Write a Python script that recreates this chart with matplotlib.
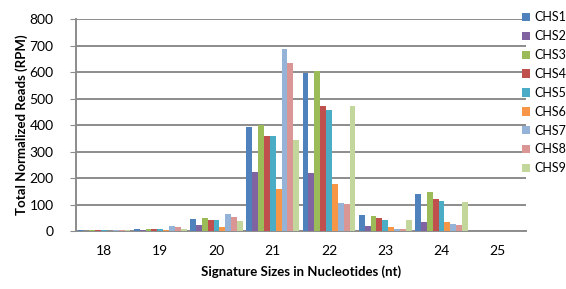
import matplotlib.pyplot as plt
import numpy as np

plt.rcParams["font.family"] = ["Lato", "DejaVu Sans"]

sizes = ["18", "19", "20", "21", "22", "23", "24", "25"]
series_names = ["CHS1", "CHS2", "CHS3", "CHS4", "CHS5", "CHS6", "CHS7", "CHS8", "CHS9"]

chs1 = [5, 10, 46, 393, 596, 60, 139, 2]
chs2 = [2, 5, 25, 223, 219, 19, 36, 1]
chs3 = [4, 10, 50, 399, 606, 59, 148, 2]
chs4 = [4, 9, 43, 359, 471, 48, 120, 2]
chs5 = [4, 9, 43, 358, 458, 44, 114, 2]
chs6 = [2, 3, 15, 161, 179, 16, 35, 1]
chs7 = [5, 18, 63, 688, 108, 10, 29, 1]
chs8 = [4, 14, 55, 634, 103, 9, 25, 1]
chs9 = [4, 8, 39, 343, 471, 41, 110, 1]
values = [chs1, chs2, chs3, chs4, chs5, chs6, chs7, chs8, chs9]

colors = ["#4F81BD", "#8064A2", "#9BBB59", "#C0504D", "#4BACC6",
          "#F79646", "#95B3D7", "#D99694", "#C3D69B"]

fig = plt.figure(figsize=(5.66, 2.89), dpi=100)
ax = fig.add_axes([0.134, 0.2, 0.795, 0.734])

x = np.arange(len(sizes))
n = len(values)
width = 0.94 / n
for i, (name, vals) in enumerate(zip(series_names, values)):
    ax.bar(x - 0.47 + width * (i + 0.5), vals, width, color=colors[i],
           label=name, zorder=3)

ax.set_xlim(-0.5, len(sizes) - 0.5)
ax.set_ylim(0, 800)
ax.set_yticks(range(0, 801, 100))
ax.set_xticks(x)
ax.set_xticklabels(sizes)
ax.yaxis.grid(True, color="#8C8C8C", linewidth=1.4, zorder=0)
ax.tick_params(axis="y", length=4, color="#8C8C8C", labelsize=10, pad=12)
ax.tick_params(axis="x", length=0, labelsize=10, pad=10)
for side in ["top", "right"]:
    ax.spines[side].set_visible(False)
for side in ["left", "bottom"]:
    ax.spines[side].set_color("#8C8C8C")
    ax.spines[side].set_linewidth(1.4)

ax.set_xlabel("Signature Sizes in Nucleotides (nt)", fontsize=9.5,
              fontweight="bold", labelpad=6)
ax.set_ylabel("Total Normalized Reads (RPM)", fontsize=9.5,
              fontweight="bold", labelpad=1)

fig.legend(loc="upper left", bbox_to_anchor=(0.913, 0.978), frameon=False,
           fontsize=9, handlelength=0.65, handleheight=0.65,
           handletextpad=0.35, labelspacing=0.55, borderaxespad=0)

fig.savefig("out.png", dpi=100)
